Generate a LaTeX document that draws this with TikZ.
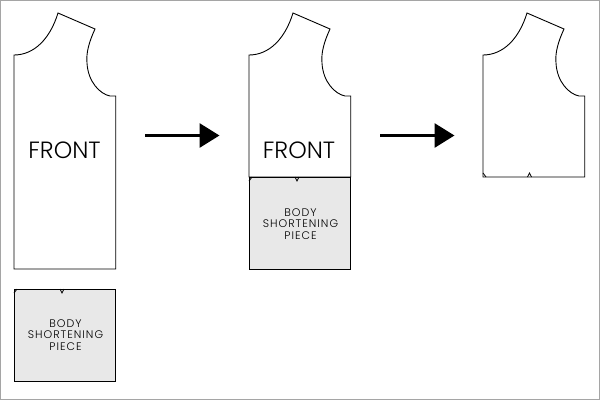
\documentclass[tikz,border=0pt]{standalone}
\usepackage{fontspec}
\usetikzlibrary{arrows.meta}
\setmainfont{Poppins Light}
\newfontfamily\spaced[LetterSpace=9]{Poppins Light}
\definecolor{piecefill}{RGB}{232,232,232}
\definecolor{framegray}{RGB}{165,165,165}
\tikzset{
  outline/.style={draw=black,line width=0.9pt,line join=miter},
  piecebox/.style={outline,fill=piecefill},
  flowarrow/.style={draw=black,line width=3pt,-{Triangle[length=20pt,width=24pt]}},
  bigtext/.style={font=\fontsize{23.5}{26}\selectfont,inner sep=0pt,text=black},
  smalltext/.style={font=\spaced\fontsize{11}{11.5}\selectfont,align=center,inner sep=0pt,text=black},
  pics/bodice/.style={code={
    \draw[outline] (14,#1) -- (14,55) .. controls (34,55) and (50,39) .. (58,13) -- (95,29)
      .. controls (89,42) and (86,53) .. (87,63) .. controls (88,82) and (100,94) .. (110,96)
      -- (115.7,96) -- (115.7,#1) -- cycle;
  }},
  pics/piece/.style={code={
    \draw[piecebox] (14,0) rectangle (115.7,92);
    \draw[outline,line width=0.8pt] (60,0) -- (62,4) -- (64,0);
    \draw[outline,line width=0.8pt] (14,4) -- (17,0);
  }}
}
\begin{document}
\begin{tikzpicture}[x=1pt,y=-1pt]
\useasboundingbox (0,0) rectangle (600,400);
\draw[framegray,fill=white,line width=1pt] (0.5,0.5) rectangle (599.5,399.5);
% first column
\pic at (0,0) {bodice=269};
\node[bigtext] (front1) at (64.5,150) {FRONT};
\pic at (0,289) {piece};
\node[smalltext] (body1) at (65.5,335) {BODY\\SHORTENING\\PIECE};
% second column
\pic at (235,0) {bodice=177};
\node[bigtext] (front2) at (299,150) {FRONT};
\pic at (235,177) {piece};
\node[smalltext] (body2) at (300.5,224) {BODY\\SHORTENING\\PIECE};
% third column
\pic at (469,0) {bodice=177};
\draw[outline,line width=0.8pt] (527.5,177) -- (529.5,173) -- (531.5,177);
\draw[outline,line width=0.8pt] (483,173) -- (486,177);
% arrows
\coordinate (a1s) at (145,135.5);
\coordinate (a1e) at (219.5,135.5);
\coordinate (a2s) at (380,135.5);
\coordinate (a2e) at (454.5,135.5);
\draw[flowarrow] (a1s) -- (a1e);
\draw[flowarrow] (a2s) -- (a2e);
\end{tikzpicture}
\end{document}
